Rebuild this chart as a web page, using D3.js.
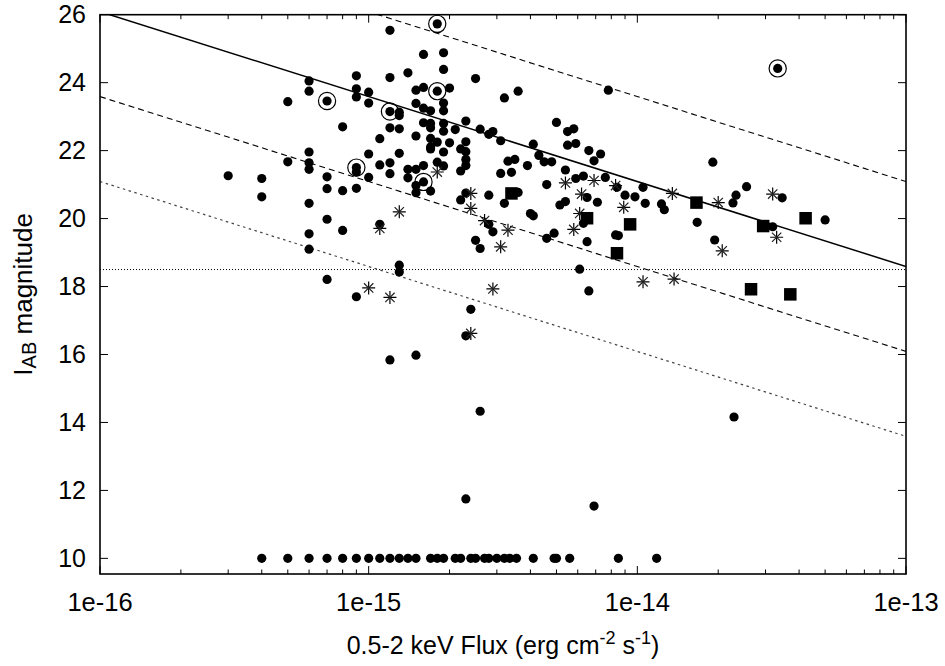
<!DOCTYPE html>
<html><head><meta charset="utf-8">
<script src="https://cdn.jsdelivr.net/npm/d3@7"></script>
<style>body{margin:0;background:#fff}svg{display:block}text{font-family:"Liberation Sans",Arial,Helvetica,sans-serif;fill:#000}</style>
</head><body><svg id="c" width="945" height="666"></svg>
<script>
// Flux values in units of 1e-15 erg cm^-2 s^-1, magnitudes I_AB
const dotsFlux = [0.9,0.6,0.6,0.5,0.9,0.9,1.0,1.0,0.8,0.6,0.5,0.6,0.6,0.9,1.0,1.0,0.3,0.4,0.7,0.7,0.8,0.9,0.4,0.6,0.7,0.8,0.6,0.6,0.7,0.9,
1.2,1.6,1.9,1.9,1.4,1.2,2.5,7.8,3.6,3.2,1.5,1.6,2.0,1.3,1.3,1.5,1.9,1.6,1.7,1.9,1.2,1.3,1.6,1.7,1.7,1.9,1.9,2.1,2.3,2.6,2.8,2.9,3.1,4.1,5.0,5.5,5.8,5.5,5.9,6.6,7.3,6.9,
1.1,1.5,1.7,1.8,1.7,1.7,2.0,2.2,2.3,2.3,1.9,1.3,2.3,2.3,2.2,1.8,1.9,1.6,1.5,1.4,1.1,1.2,1.2,1.4,1.5,1.7,1.5,3.3,3.5,3.9,3.1,3.4,4.3,4.5,4.8,5.4,4.6,5.9,6.3,7.6,8.4,9.0,9.8,6.5,2.3,2.8,3.6,2.2,
3.2,7.1,5.15,5.4,4.0,4.1,6.3,4.9,4.6,6.5,8.3,8.5,2.8,2.9,2.5,2.6,1.1,1.3,1.3,6.1,6.6,2.4,2.3,1.2,1.5,
10.5,10.7,12.3,12.6,16.7,22.7,23.3,25.5,34.6,19.4,31.9,50,19.1,2.6,2.3,22.9,6.9];
const dotsMag = [24.20,24.05,23.75,23.44,23.82,23.58,23.72,23.40,22.70,21.96,21.67,21.64,21.45,21.37,21.90,21.21,21.26,21.18,21.23,20.88,20.82,20.89,20.64,20.45,19.98,19.65,19.55,19.10,18.21,17.70,
25.54,24.83,24.88,24.39,24.29,24.15,24.12,23.78,23.75,23.55,23.78,23.86,23.84,23.13,23.03,23.39,23.40,23.25,23.17,23.17,22.67,22.64,22.82,22.80,22.67,22.80,22.57,22.62,22.87,22.63,22.48,22.56,22.29,22.19,22.83,22.56,22.64,22.16,22.21,22.00,21.90,21.70,
22.35,22.43,22.36,22.25,22.11,22.05,22.23,22.05,22.26,21.97,21.96,21.92,21.74,21.56,21.40,21.66,21.55,21.56,21.45,21.45,21.58,21.64,21.32,21.20,20.97,20.81,20.76,21.69,21.74,21.56,21.33,21.36,21.86,21.67,21.67,21.43,21.00,21.18,21.25,21.21,20.92,20.69,20.64,20.62,20.75,20.69,20.77,20.55,
20.45,20.48,20.40,20.50,20.15,20.08,19.86,19.57,19.42,19.32,19.52,19.50,19.83,19.61,19.36,19.12,19.83,18.63,18.43,18.51,17.87,17.33,16.55,15.84,15.98,
20.92,20.45,20.43,20.26,19.89,20.46,20.69,20.94,20.61,19.37,19.76,19.96,21.66,14.33,11.75,14.16,11.54];

// sources without optical counterpart, plotted at magnitude 10
const undetFlux = [0.4,0.5,0.6,0.7,0.8,0.9,1.0,1.1,1.2,1.3,1.4,1.5,1.7,1.8,1.9,2.1,2.2,2.4,2.5,2.7,2.8,3.0,3.2,3.35,3.55,4.1,4.9,5.0,5.6,8.5,11.8];
const undetMag = 10;

const circledFlux = [0.7,1.2,0.9,1.6,1.8,1.8,33.3];
const circledMag = [23.46,23.15,21.50,21.08,25.73,23.75,24.42];

const starFlux = [1.8,2.4,2.4,5.4,6.9,8.3,6.2,8.9,6.1,5.8,2.7,3.3,3.1,1.3,1.1,1.0,1.2,2.9,2.4,10.5,13.5,20.0,20.7,31.9,33.0,13.7];
const starMag = [21.37,20.74,20.30,21.05,21.12,20.97,20.72,20.33,20.15,19.68,19.94,19.66,19.17,20.20,19.71,17.96,17.68,17.93,16.62,18.14,20.74,20.47,19.05,20.72,19.45,18.22];

const squareFlux = [3.4,6.5,9.4,8.4,16.6,29.4,42.3,26.5,37.1];
const squareMag = [20.74,20.01,19.83,18.98,20.47,19.78,20.01,17.92,17.77];

// constant X-ray/optical ratio lines: magnitude at f = 1e-13, slope -2.5 mag per decade
const ratioLineMag13 = [21.09, 18.59, 16.09, 13.59];
const ratioLineStyle = ["dashUp", "solid", "dash", "dot"];
const magLimit = 18.5;

const xTickLabels = ["1e-16","1e-15","1e-14","1e-13"];
const yTicks = [10,12,14,16,18,20,22,24,26];

const W = 945, H = 666;
const L = 100, R = 906, T = 14.7, B = 574;
const x = d3.scaleLog().domain([1e-16, 1e-13]).range([L, R]);
const y = d3.scaleLinear().domain([9.54, 26]).range([B, T]);
const svg = d3.select("#c");

const defs = svg.append("defs");
defs.append("clipPath").attr("id","clip").append("rect").attr("x",L).attr("y",T).attr("width",R-L).attr("height",B-T);

const plot = svg.append("g").attr("clip-path","url(#clip)");

// horizontal limit
plot.append("line").attr("x1",L).attr("x2",R).attr("y1",y(magLimit)).attr("y2",y(magLimit))
  .attr("stroke","#000").attr("stroke-width",1).attr("stroke-dasharray","1,2");

const styles = {
  dashUp: {dash:"6,4", w:1.1, c:"#000"},
  solid: {dash:null, w:1.5, c:"#000"},
  dash: {dash:"6,4", w:1.1, c:"#000"},
  dot: {dash:"2.5,3.5", w:1.2, c:"#444"}
};
ratioLineMag13.forEach((m13, i) => {
  const st = styles[ratioLineStyle[i]];
  const lf0 = -16, lf1 = -13;
  const m0 = m13 - 2.5*(lf0 + 13), m1 = m13 - 2.5*(lf1 + 13);
  const ln = plot.append("line")
    .attr("x1", x(Math.pow(10,lf0))).attr("y1", y(m0))
    .attr("x2", x(Math.pow(10,lf1))).attr("y2", y(m1))
    .attr("stroke", st.c).attr("stroke-width", st.w);
  if (st.dash) ln.attr("stroke-dasharray", st.dash);
});

const E = 1e-15;
// dots
const dotData = dotsFlux.map((f,i)=>[f, dotsMag[i]]).concat(undetFlux.map(f=>[f, undetMag])).concat(circledFlux.map((f,i)=>[f,circledMag[i]]));
plot.selectAll("circle.dot").data(dotData).enter().append("circle")
  .attr("class","dot").attr("cx",d=>x(d[0]*E)).attr("cy",d=>y(d[1])).attr("r",4.6).attr("fill","#000");

// stars (plus + cross)
const sz = 6.5;
const sg = plot.selectAll("g.star").data(starFlux.map((f,i)=>[f,starMag[i]])).enter().append("g")
  .attr("class","star").attr("transform",d=>`translate(${x(d[0]*E)},${y(d[1])})`);
sg.append("path").attr("d",`M${-sz},0H${sz}M0,${-sz}V${sz}`).attr("stroke","#000").attr("stroke-width",1.2);
sg.append("path").attr("d",`M${-sz*0.72},${-sz*0.72}L${sz*0.72},${sz*0.72}M${-sz*0.72},${sz*0.72}L${sz*0.72},${-sz*0.72}`).attr("stroke","#222").attr("stroke-width",1.2);

// squares
const sq = 12.5;
plot.selectAll("rect.sq").data(squareFlux.map((f,i)=>[f,squareMag[i]])).enter().append("rect")
  .attr("class","sq").attr("x",d=>x(d[0]*E)-sq/2).attr("y",d=>y(d[1])-sq/2).attr("width",sq).attr("height",sq).attr("fill","#000");

// rings
plot.selectAll("circle.ring").data(circledFlux.map((f,i)=>[f,circledMag[i]])).enter().append("circle")
  .attr("class","ring").attr("cx",d=>x(d[0]*E)).attr("cy",d=>y(d[1])).attr("r",8.6)
  .attr("fill","none").attr("stroke","#000").attr("stroke-width",1.2);

// frame
const ax = svg.append("g");
ax.append("rect").attr("x",L).attr("y",T).attr("width",R-L).attr("height",B-T)
  .attr("fill","none").attr("stroke","#000").attr("stroke-width",1.6);

// x ticks
const xt = x.ticks();
xt.forEach(v => {
  const lg = Math.log10(v);
  const major = Math.abs(lg - Math.round(lg)) < 1e-9;
  const len = major ? 8 : 4.5;
  const px = x(v);
  ax.append("line").attr("x1",px).attr("x2",px).attr("y1",B).attr("y2",B-len).attr("stroke","#000").attr("stroke-width",1);
  ax.append("line").attr("x1",px).attr("x2",px).attr("y1",T).attr("y2",T+len).attr("stroke","#000").attr("stroke-width",1);
});
xTickLabels.forEach((lab,i) => {
  ax.append("text").attr("x", x(Math.pow(10,-16+i))).attr("y", 611).attr("text-anchor","middle")
    .attr("font-size",25.5).text(lab);
});
// y ticks
yTicks.forEach(v => {
  const py = y(v);
  ax.append("line").attr("x1",L).attr("x2",L+8).attr("y1",py).attr("y2",py).attr("stroke","#000").attr("stroke-width",1);
  ax.append("line").attr("x1",R).attr("x2",R-8).attr("y1",py).attr("y2",py).attr("stroke","#000").attr("stroke-width",1);
  ax.append("text").attr("x",86).attr("y",py).attr("dy","0.35em").attr("text-anchor","end")
    .attr("font-size",25).text(v);
});

// axis titles
const xl = svg.append("text").attr("x",(L+R)/2).attr("y",654).attr("text-anchor","middle").attr("font-size",25);
xl.append("tspan").text("0.5-2 keV Flux (erg cm");
xl.append("tspan").attr("dy",-10).attr("font-size",18).text("-2");
xl.append("tspan").attr("dy",10).text(" s");
xl.append("tspan").attr("dy",-10).attr("font-size",18).text("-1");
xl.append("tspan").attr("dy",10).text(")");

const yl = svg.append("text").attr("transform",`translate(32,${(T+B)/2}) rotate(-90)`).attr("text-anchor","middle").attr("font-size",26);
yl.append("tspan").text("I");
yl.append("tspan").attr("dy",4).attr("font-size",20).text("AB");
yl.append("tspan").attr("dy",-4).text(" magnitude");
</script></body></html>
